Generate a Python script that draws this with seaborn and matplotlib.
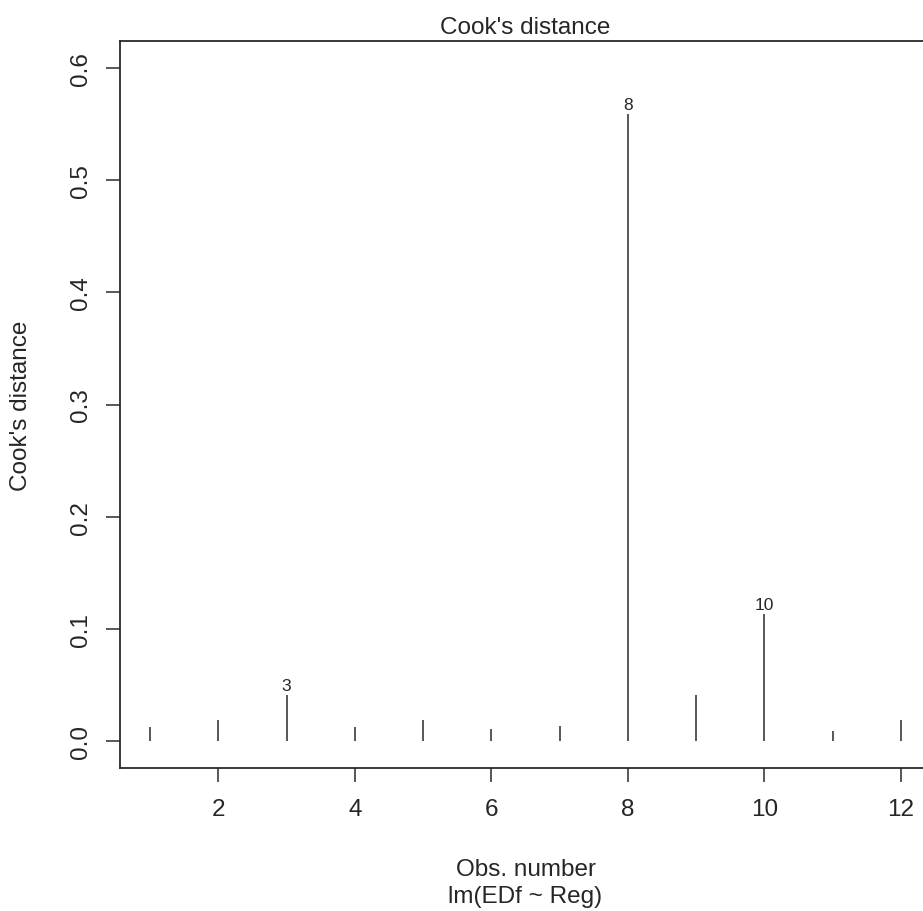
import matplotlib
matplotlib.use("Agg")
import matplotlib.pyplot as plt
import seaborn as sns
import pandas as pd

# ---- data ----
obs_number = [1, 2, 3, 4, 5, 6, 7, 8, 9, 10, 11, 12]
cooks_distance = [0.0125, 0.019, 0.041, 0.0128, 0.019, 0.011,
                  0.0134, 0.559, 0.0415, 0.113, 0.009, 0.019]
labelled_obs = [3, 8, 10]
x_ticks = [2, 4, 6, 8, 10, 12]
y_ticks = [0.0, 0.1, 0.2, 0.3, 0.4, 0.5, 0.6]
y_tick_labels = ["0.0", "0.1", "0.2", "0.3", "0.4", "0.5", "0.6"]

title_text = "Cook's distance"
y_label = "Cook's distance"
x_label = "Obs. number"
sub_label = "lm(EDf ~ Reg)"

df = pd.DataFrame({"obs": obs_number, "cook": cooks_distance})

sns.set_theme(style="white")
plt.rcParams["font.family"] = ["Liberation Sans", "DejaVu Sans"]

ink = "#2a2a2a"
txt = "#262626"
fs = 17.5

fig = plt.figure(figsize=(9.23, 9.12), dpi=100)
W, H = 923, 912
left, right, top, bottom = 120, 931, 42, 769
ax = fig.add_axes([left / W, 1 - bottom / H, (right - left) / W, (bottom - top) / H])

sns.barplot(data=df, x="obs", y="cook", native_scale=True, width=0.001,
            color=ink, saturation=1, errorbar=None,
            edgecolor=ink, linewidth=1.1, ax=ax)

ax.set_xlim(0.56, 12.44)
ax.set_ylim(-0.024, 0.624)
ax.set_xticks(x_ticks)
ax.set_xticklabels([str(t) for t in x_ticks])
ax.set_yticks(y_ticks)
ax.set_yticklabels(y_tick_labels, rotation=90, va="center")

ax.tick_params(axis="both", which="major", direction="out", length=10, width=1.1,
               color=ink, labelsize=fs, labelcolor=txt, pad=11.5,
               bottom=True, left=True, top=False, right=False)
ax.tick_params(axis="y", pad=10)

for sp in ax.spines.values():
    sp.set_visible(True)
    sp.set_color(ink)
    sp.set_linewidth(1.3)

# id labels on the largest values
for o in labelled_obs:
    v = cooks_distance[obs_number.index(o)]
    ax.annotate(str(o), xy=(o, v), xytext=(0, 3.6), textcoords="offset points",
                ha="center", va="baseline", fontsize=12.5, color=txt)

ax.set_title(title_text, fontsize=fs, color=txt, pad=5.5)
ax.set_ylabel(y_label, fontsize=fs, color=txt)
ax.yaxis.set_label_coords(-0.1217, 0.5)
ax.yaxis.label.set_va("center")

ax.set_xlabel(x_label, fontsize=fs, color=txt, va="top")
ax.xaxis.set_label_coords(0.5, -0.1238)
ax.text(0.5, -0.1616, sub_label, transform=ax.transAxes, ha="center", va="top",
        fontsize=fs, color=txt)

ax.grid(False)
fig.savefig("out.png", dpi=100, facecolor="white")
